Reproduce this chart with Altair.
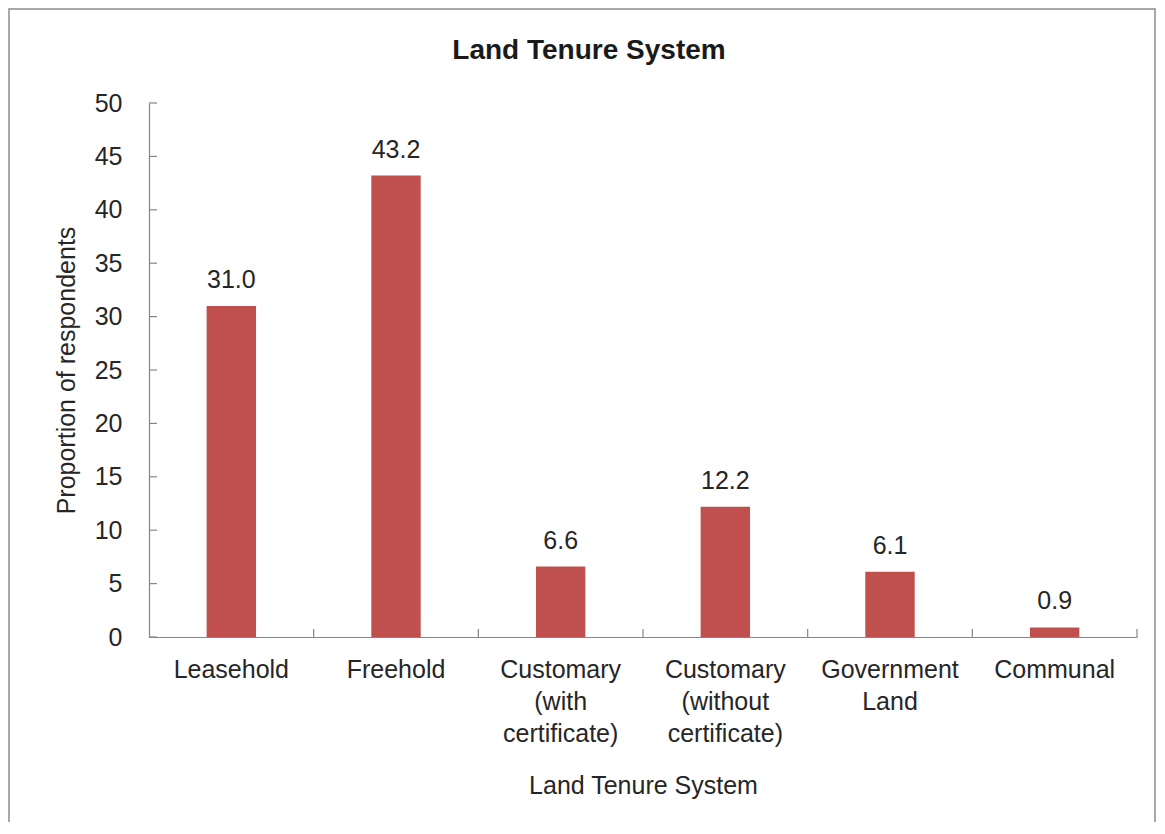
import altair as alt
import pandas as pd

categories = ["Leasehold", "Freehold", "Customary|(with|certificate)",
              "Customary|(without|certificate)", "Government|Land", "Communal"]
values = [31.0, 43.2, 6.6, 12.2, 6.1, 0.9]
y_ticks = [0, 5, 10, 15, 20, 25, 30, 35, 40, 45, 50]
chart_title = "Land Tenure System"

df = pd.DataFrame({"category": categories, "value": values})
tick_df = pd.DataFrame({"tick": y_ticks})

FONT = "Liberation Sans"
AXIS_COLOR = "#868686"
TEXT_COLOR = "#262626"
BAR_COLOR = "#C0504D"

x_enc = alt.X(
    "category:N", sort=categories,
    scale=alt.Scale(paddingInner=0, paddingOuter=0),
    axis=alt.Axis(
        labelExpr="split(datum.label, '|')", labelAngle=0, labelPadding=20,
        labelLineHeight=32, labelFontSize=25, labelColor=TEXT_COLOR,
        labelFont=FONT,
        ticks=False, tickSize=0, domainColor=AXIS_COLOR, domainWidth=1.2,
        title="Land Tenure System", titleFontSize=25, titleFontWeight="normal",
        titleColor=TEXT_COLOR, titleY=148, titleBaseline="middle",
        titleFont=FONT,
    ),
)

y_enc = alt.Y(
    "value:Q",
    scale=alt.Scale(domain=[0, 50], nice=False),
    axis=alt.Axis(
        values=y_ticks, grid=False, ticks=False, tickSize=0, labelPadding=27,
        labelFontSize=25, labelColor=TEXT_COLOR, labelFont=FONT,
        domainColor=AXIS_COLOR, domainWidth=1.2,
        title="Proportion of respondents", titleFontSize=25,
        titleFontWeight="normal", titleColor=TEXT_COLOR, titleFont=FONT,
        titleX=-83, titleY=267, titleAngle=-90, titleBaseline="middle",
    ),
)

frame = alt.Chart(pd.DataFrame({"f": [0]})).mark_rect(
    filled=False, stroke="#8c8c8c", strokeWidth=1.5
).encode(
    x=alt.value(-140), x2=alt.value(1006), y=alt.value(-94), y2=alt.value(800)
)

title_mark = alt.Chart(pd.DataFrame({"t": [chart_title]})).mark_text(
    fontSize=28, fontWeight="bold", font=FONT, color="#1a1a1a",
    baseline="alphabetic", align="center"
).encode(
    text="t:N", x=alt.value(440), y=alt.value(-44)
)

bars = alt.Chart(df).mark_bar(
    width=alt.RelativeBandSize(0.3), color=BAR_COLOR
).encode(x=x_enc, y=y_enc)

labels = alt.Chart(df).mark_text(
    baseline="alphabetic", dy=-18, fontSize=25, font=FONT, color=TEXT_COLOR
).encode(
    x=alt.X("category:N", sort=categories),
    y=alt.Y("value:Q"),
    text=alt.Text("value:Q", format=".1f"),
)

x_ticks = alt.Chart(df).mark_rule(color=AXIS_COLOR, strokeWidth=1.2).encode(
    x=alt.X("category:N", sort=categories, bandPosition=1),
    y=alt.value(534), y2=alt.value(526),
)

y_tick_marks = alt.Chart(tick_df).mark_rule(color=AXIS_COLOR, strokeWidth=1.2).encode(
    y=alt.Y("tick:Q"), x=alt.value(0), x2=alt.value(8),
)

chart = alt.layer(frame, title_mark, bars, labels, x_ticks, y_tick_marks).properties(
    width=988, height=534,
    padding={"left": 141, "top": 95, "right": 20, "bottom": 185},
    autosize=alt.AutoSizeParams(type="none"),
).configure(background="white").configure_view(stroke=None)

chart.save("out.html", embed_options={"renderer": "svg", "actions": False})
